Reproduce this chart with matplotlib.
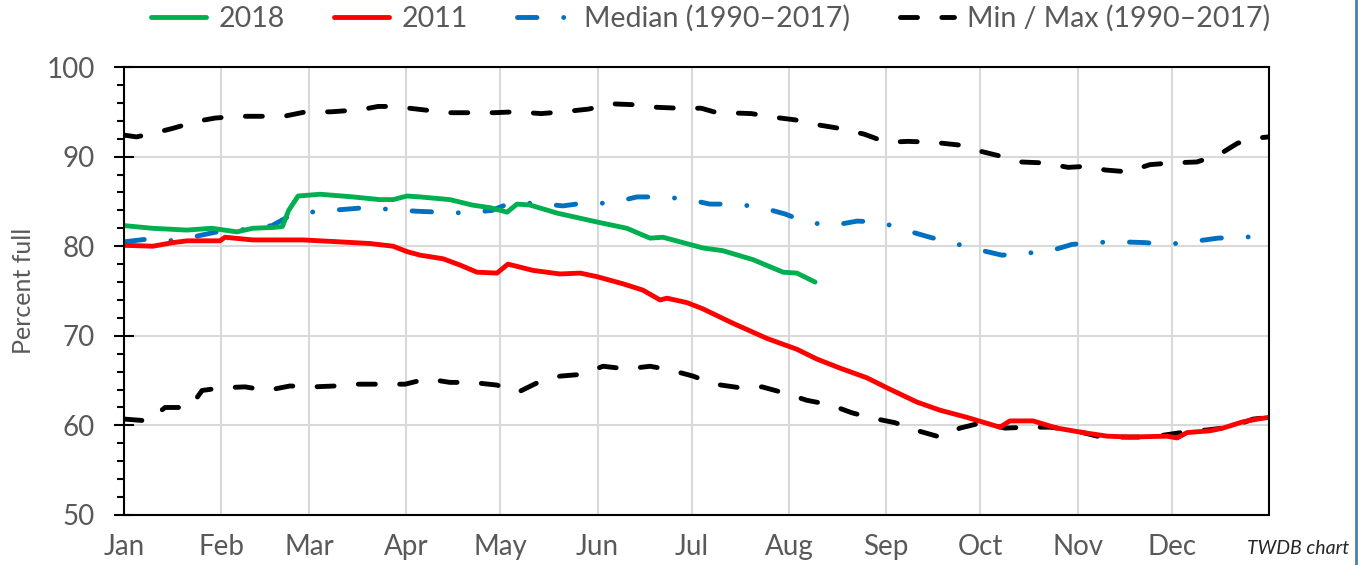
import matplotlib.pyplot as plt
from matplotlib.lines import Line2D

# day of year (0 = Jan 1) and percent full
days_2018 = [0, 9, 20, 28, 36, 41, 48, 50.5, 52.5, 55.5, 62.5, 73, 81.6, 85.8, 90.2, 94.4,
             103.9, 110.9, 116.7, 122.1, 125.3, 129.4, 138, 150.8, 160.3, 167.7, 171.8,
             184.6, 190.9, 200.5, 210.1, 214.5, 220.3]
vals_2018 = [82.3, 82.0, 81.8, 82.0, 81.6, 82.0, 82.1, 82.2, 84.0, 85.6, 85.8, 85.5, 85.2,
             85.2, 85.6, 85.5, 85.2, 84.6, 84.3, 83.8, 84.7, 84.6, 83.7, 82.7, 82.0, 80.9,
             81.0, 79.8, 79.5, 78.5, 77.1, 77.0, 76.0]

days_2011 = [0, 9.2, 15.6, 20.1, 30.6, 32.2, 41.1, 57.1, 67.9, 78.4, 85.8, 90.2, 94.4,
             101.7, 107.1, 112.5, 118.9, 122.4, 130.4, 139, 145.4, 150.8, 159.1, 165.4,
             170.9, 173.1, 179.5, 184.6, 194.1, 205, 214.5, 220.9, 228.2, 236.9, 243.2,
             252.8, 260.1, 268.7, 279.2, 282.4, 289.8, 297.4, 305.7, 313.4, 320.7, 332.5,
             335.7, 338.9, 346.2, 350.3, 356.7, 361.2, 365]
vals_2011 = [80.1, 80.0, 80.4, 80.6, 80.6, 81.0, 80.7, 80.7, 80.5, 80.3, 80.0, 79.4, 79.0,
             78.6, 77.9, 77.1, 77.0, 78.0, 77.3, 76.9, 77.0, 76.6, 75.8, 75.1, 74.0, 74.2,
             73.7, 73.0, 71.4, 69.7, 68.5, 67.4, 66.4, 65.3, 64.2, 62.6, 61.7, 60.9, 59.8,
             60.5, 60.5, 59.7, 59.2, 58.8, 58.7, 58.8, 58.6, 59.2, 59.4, 59.7, 60.4, 60.7,
             60.9]

days_median = [0.3, 7.7, 16.3, 24.2, 29.6, 39.2, 47.2, 52.9, 61.5, 69.8, 76.8, 85.4, 93.4,
               100.7, 109.3, 117.3, 123, 131.7, 139.9, 146.3, 155.2, 163.5, 170.2, 178.8,
               186.8, 194.1, 202.4, 210.7, 217.4, 225.7, 233.7, 241, 249, 256.9, 263.9,
               271.3, 279.9, 286.6, 294.5, 302.2, 308.9, 316.9, 325.5, 332.5, 340.4, 348.7,
               355.8, 363.7, 365]
vals_median = [80.5, 80.8, 80.6, 81.2, 81.6, 81.9, 82.3, 83.4, 83.9, 84.1, 84.3, 84.1, 83.9,
               83.8, 83.7, 84.0, 84.8, 84.8, 84.5, 84.8, 84.8, 85.5, 85.5, 85.3, 84.7, 84.7,
               84.4, 83.6, 82.7, 82.3, 82.8, 82.7, 81.8, 81.0, 80.4, 79.7, 79.0, 79.2, 79.4,
               80.2, 80.4, 80.5, 80.4, 80.2, 80.5, 80.9, 81.0, 81.1, 81.1]

days_max = [0, 4, 8, 15, 19, 21, 29, 36, 43, 51, 58, 66, 74, 78, 81, 86, 91, 96, 103, 110,
            118, 125, 133, 140, 148, 152, 155, 162, 170, 177, 184, 188, 192, 200, 207, 214,
            222, 229, 236, 243, 250, 258, 266, 273, 280, 286, 293, 301, 306, 313, 320, 327,
            334, 342, 349, 355, 362, 365]
vals_max = [92.4, 92.2, 92.5, 93.1, 93.5, 93.8, 94.3, 94.5, 94.5, 94.5, 95.0, 95.0, 95.2,
            95.4, 95.6, 95.6, 95.4, 95.2, 94.9, 94.9, 94.9, 95.0, 94.8, 95.0, 95.3, 95.6,
            95.9, 95.8, 95.5, 95.4, 95.4, 95.0, 94.9, 94.8, 94.4, 94.1, 93.5, 93.1, 92.5,
            91.6, 91.7, 91.6, 91.3, 90.6, 90.0, 89.4, 89.3, 88.8, 88.9, 88.5, 88.3, 89.1,
            89.3, 89.4, 90.2, 91.5, 92.1, 92.2]

days_min = [0.3, 7.7, 13.1, 21, 24.9, 31.2, 38.6, 45.6, 52.9, 60.2, 67.3, 74.6, 82.2, 89.6,
            96.6, 103.9, 110.9, 118.9, 125.6, 132, 139, 146, 152.7, 160.3, 167.7, 174,
            181.4, 188.4, 196.4, 203.4, 210.7, 217.7, 225.1, 232.1, 238.8, 245.8, 253.1,
            260.1, 266.5, 273.5, 280.8, 288.2, 295.2, 302.2, 310.2, 316.9, 324.5, 331.2,
            338.9, 345.6, 352.6, 359.9, 365]
vals_min = [60.7, 60.5, 62.0, 62.0, 63.9, 64.2, 64.3, 63.9, 64.4, 64.3, 64.4, 64.6, 64.6,
            64.6, 65.2, 64.8, 64.8, 64.5, 63.7, 64.8, 65.5, 65.7, 66.6, 66.3, 66.6, 66.2,
            65.5, 64.6, 64.2, 64.3, 63.6, 62.8, 62.3, 61.4, 60.8, 60.3, 59.4, 58.7, 59.7,
            60.3, 59.7, 59.8, 59.8, 59.5, 58.8, 58.7, 58.7, 58.9, 59.3, 59.5, 59.8, 60.7,
            60.9]

month_starts = [0, 31, 59, 90, 120, 151, 181, 212, 243, 273, 304, 334]
month_labels = ["Jan", "Feb", "Mar", "Apr", "May", "Jun", "Jul", "Aug", "Sep", "Oct", "Nov", "Dec"]

plt.rcParams["font.family"] = ["Lato", "DejaVu Sans"]
text_gray = "#595959"
lw = 3.5

fig = plt.figure(figsize=(13.67, 5.65), dpi=100)
ax = fig.add_axes([0.0907, 0.0885, 0.8376, 0.7929])

ax.plot(days_max, vals_max, color="black", lw=lw, dashes=(3.5, 5),
        dash_capstyle="round", solid_capstyle="round")
ax.plot(days_min, vals_min, color="black", lw=lw, dashes=(3.5, 5),
        dash_capstyle="round", solid_capstyle="round")
ax.plot(days_median, vals_median, color="#0070c0", lw=lw, dashes=(4, 5.5, 0.01, 5.5),
        dash_capstyle="round")
ax.plot(days_2011, vals_2011, color="#ff0000", lw=lw, solid_capstyle="round")
ax.plot(days_2018, vals_2018, color="#00b050", lw=lw, solid_capstyle="round")

ax.set_xlim(0, 365)
ax.set_ylim(50, 100)
ax.set_xticks(month_starts)
ax.set_xticklabels(month_labels)
ax.set_yticks(range(50, 101, 10))
ax.set_yticks(range(52, 100, 2), minor=True)
ax.tick_params(axis="x", length=0, pad=14, labelsize=20, labelcolor=text_gray)
ax.tick_params(axis="y", which="major", direction="inout", length=14, width=1.5,
               pad=14, labelsize=20, labelcolor=text_gray)
ax.tick_params(axis="y", which="minor", direction="out", length=5, width=1.5)
ax.grid(True, color="#d9d9d9", lw=1.5)
ax.set_axisbelow(True)
for s in ax.spines.values():
    s.set_linewidth(1.5)
    s.set_color("black")
ax.set_ylabel("Percent full", fontsize=18, color=text_gray, labelpad=8)

handles = [
    Line2D([], [], color="#00b050", lw=lw, solid_capstyle="round"),
    Line2D([], [], color="#ff0000", lw=lw, solid_capstyle="round"),
    Line2D([], [], color="#0070c0", lw=lw, dashes=(4, 5.5, 0.01, 5.5), dash_capstyle="round"),
    Line2D([], [], color="black", lw=lw, dashes=(3.5, 5), dash_capstyle="round"),
]
labels = ["2018", "2011", "Median (1990\u20132017)", "Min / Max (1990\u20132017)"]
fig.legend(handles, labels, loc="center", bbox_to_anchor=(0.52, 0.968), ncol=4,
           frameon=False, fontsize=20.5, handlelength=1.9, handletextpad=0.45,
           columnspacing=1.75, labelcolor=text_gray)

fig.text(0.987, 0.015, "TWDB chart", ha="right", va="bottom", fontsize=14,
         style="italic", color="#262626")
fig.add_artist(Line2D([0.992, 0.992], [0, 1], transform=fig.transFigure,
                      color="#4a7eb5", lw=2))

fig.savefig("out.png", dpi=100)
